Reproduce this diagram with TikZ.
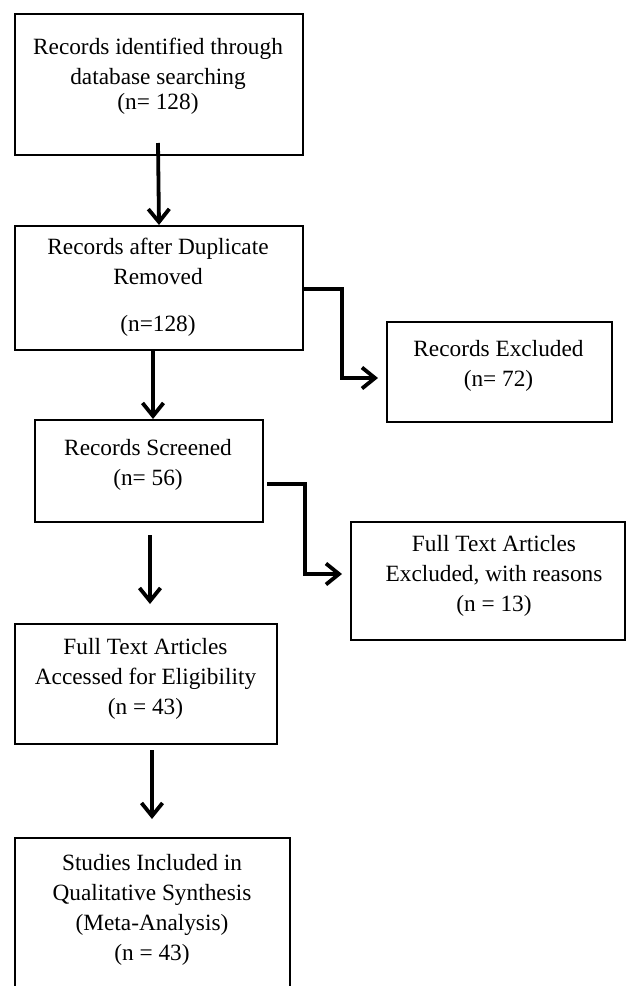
\documentclass[tikz,border=0pt]{standalone}
\usepackage{fontspec}
\setmainfont{Liberation Serif}
\usetikzlibrary{arrows.meta}
\begin{document}
\begin{tikzpicture}[x=1pt,y=-1pt,
  box/.style={draw=black, line width=2pt, rectangle, inner sep=0pt, anchor=north west},
  lbl/.style={align=center, inner sep=0pt, font=\fontsize{23.3}{30}\selectfont},
  flow/.style={line width=3.8pt, -{Straight Barb[length=13pt,width=21pt,line width=3.8pt]}},
]
\useasboundingbox (0,0) rectangle (625,986);
\fill[white] (0,0) rectangle (625,986);

% boxes
\node[box, minimum width=288pt, minimum height=141pt] (b1) at (14,13) {};
\node[box, minimum width=288pt, minimum height=124pt] (b2) at (14,225) {};
\node[box, minimum width=225pt, minimum height=100pt] (b3) at (386,321) {};
\node[box, minimum width=228pt, minimum height=102pt] (b4) at (34,419) {};
\node[box, minimum width=274pt, minimum height=118pt] (b5) at (350,521) {};
\node[box, minimum width=262pt, minimum height=120pt] (b6) at (14,623) {};
\node[box, minimum width=275pt, minimum height=170pt] (b7) at (14,837) {};

% labels
\node[lbl] (t1) at (158,76) {Records identified through\\database searching\\[-5pt](n= 128)};
\node[lbl] (t2) at (158,287.5) {Records after Duplicate\\Removed\\[17pt](n=128)};
\node[lbl] (t3) at (498.5,365.5) {Records Excluded\\(n= 72)};
\node[lbl] (t4) at (148,465) {Records Screened\\(n= 56)};
\node[lbl] (t5) at (494,575.5) {Full Text Articles\\Excluded, with reasons\\(n = 13)};
\node[lbl] (t6) at (145.5,679) {Full Text Articles\\Accessed for Eligibility\\(n = 43)};
\node[lbl] (t7) at (152,910) {Studies Included in\\Qualitative Synthesis\\(Meta-Analysis)\\(n = 43)};

% free ends of connectors
\coordinate (a1s) at (158,143);
\coordinate (a2s) at (153,349);
\coordinate (a3s) at (150,535);
\coordinate (a3e) at (150,604);
\coordinate (a4s) at (152,750);
\coordinate (a4e) at (152,819);

% vertical arrows
\draw[flow] (a1s) -- (b2.north);
\draw[flow] (a2s) -- (a2s |- b4.north);
\draw[flow] (a3s) -- (a3e);
\draw[flow] (a4s) -- (a4e);

% elbow connectors
\draw[flow, shorten >=8pt] ([yshift=-1pt]b2.east) -- ++(38,0) |- ([yshift=-6pt]b3.west);
\draw[flow, shorten >=8pt] ([xshift=3pt,yshift=-13pt]b4.east) -- ++(38,0) |- ([yshift=7pt]b5.west);
\end{tikzpicture}
\end{document}
